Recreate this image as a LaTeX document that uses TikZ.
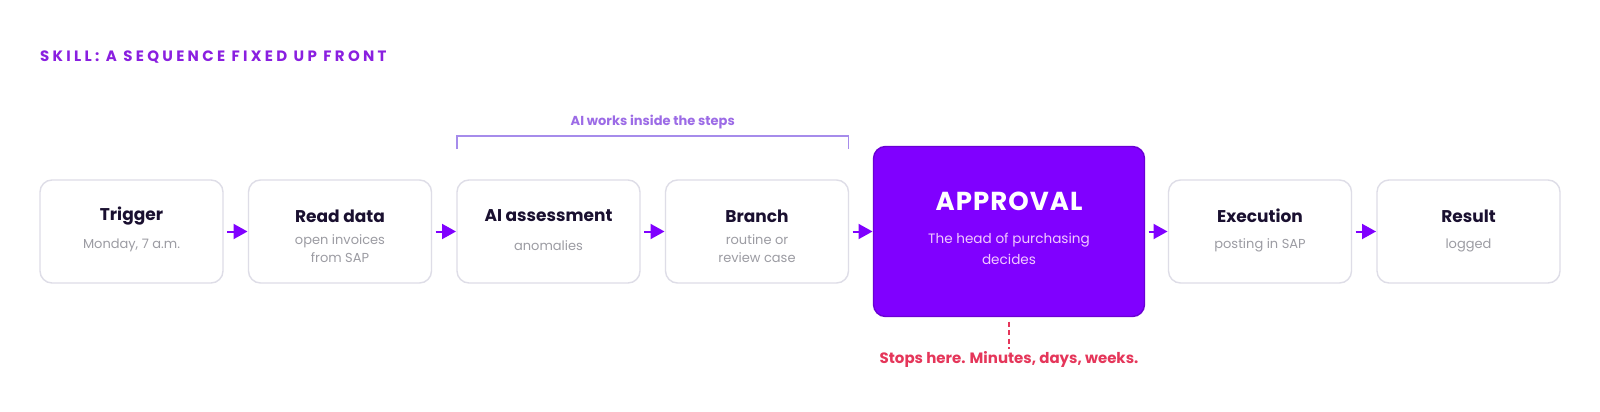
\documentclass[tikz,border=0pt]{standalone}
\usepackage{fontspec}
\setmainfont{Poppins}
\usetikzlibrary{arrows.meta,positioning}
\definecolor{vio}{HTML}{8000FF}
\definecolor{violine}{HTML}{6A00D4}
\definecolor{hdrvio}{HTML}{8A1FE0}
\definecolor{boxline}{HTML}{DEDDE7}
\definecolor{ttlink}{HTML}{1A1030}
\definecolor{subgray}{HTML}{9C9CA3}
\definecolor{bracevio}{HTML}{A68CEB}
\definecolor{ailabel}{HTML}{9C6BE6}
\definecolor{apprsubc}{HTML}{F2C8FF}
\definecolor{stopred}{HTML}{E5365A}

\begin{document}
\begin{tikzpicture}[x=1pt,y=-1pt,>={Triangle[length=14pt,width=15pt]},node distance=25.5pt,
  stepbox/.style={draw=boxline,line width=1.4pt,fill=white,rounded corners=12pt,
    minimum width=183pt,minimum height=103pt,inner sep=0pt,outer sep=0pt},
  apprbox/.style={draw=violine,line width=1.4pt,fill=vio,rounded corners=12pt,
    minimum width=271pt,minimum height=170pt,inner sep=0pt,outer sep=0pt},
  ttl/.style={text=ttlink,font=\fontsize{17}{20}\selectfont\bfseries,inner sep=0pt},
  sub/.style={text=subgray,font=\fontsize{13}{18}\selectfont,align=center,inner sep=0pt},
  apprttl/.style={text=white,font=\fontsize{26}{30}\selectfont\addfontfeatures{LetterSpace=4}\bfseries,inner sep=0pt},
  apprsub/.style={text=apprsubc,font=\fontsize{13.6}{21}\selectfont,align=center,inner sep=0pt},
  flow/.style={->,color=vio,line width=2pt,shorten <=4pt,shorten >=1pt}]

  \path[use as bounding box,fill=white] (0,0) rectangle (1600,412);

  \node[anchor=west,text=hdrvio,inner sep=0pt,
    font=\fontsize{15}{16}\selectfont\addfontfeatures{LetterSpace=22}\bfseries] (hdr) at (40,57)
    {SKILL: A SEQUENCE FIXED UP FRONT};

  \node[stepbox] (trig) at (131.5,231.5) {};
  \node[stepbox,right=of trig] (read) {};
  \node[stepbox,right=of read] (ai) {};
  \node[stepbox,right=of ai] (branch) {};
  \node[apprbox,right=25pt of branch] (appr) {};
  \node[stepbox,right=24pt of appr] (exec) {};
  \node[stepbox,right=of exec] (res) {};

  \node[ttl] (trig-t) at ([yshift=15.5pt]trig.center) {Trigger};
  \node[sub] (trig-s) at ([yshift=-14pt]trig.center) {Monday, 7 a.m.};
  \node[ttl] (read-t) at ([yshift=15.5pt]read.center) {Read data};
  \node[sub] (read-s) at ([yshift=-17pt]read.center) {open invoices\\from SAP};
  \node[ttl] (ai-t) at ([yshift=15.5pt]ai.center) {AI assessment};
  \node[sub] (ai-s) at ([yshift=-14pt]ai.center) {anomalies};
  \node[ttl] (branch-t) at ([yshift=15.5pt]branch.center) {Branch};
  \node[sub] (branch-s) at ([yshift=-17pt]branch.center) {routine or\\review case};
  \node[apprttl] (appr-t) at ([yshift=30pt]appr.center) {APPROVAL};
  \node[apprsub] (appr-s) at ([yshift=-17.5pt]appr.center) {The head of purchasing\\decides};
  \node[ttl] (exec-t) at ([yshift=15.5pt]exec.center) {Execution};
  \node[sub] (exec-s) at ([yshift=-14pt]exec.center) {posting in SAP};
  \node[ttl] (res-t) at ([yshift=15.5pt]res.center) {Result};
  \node[sub] (res-s) at ([yshift=-14pt]res.center) {logged};

  \path[flow] (trig) edge (read)
              (read) edge (ai)
              (ai) edge (branch)
              (branch) edge (appr)
              (appr) edge (exec)
              (exec) edge (res);

  \coordinate (brl) at ([yshift=44pt]ai.north west);
  \coordinate (brr) at ([yshift=44pt]branch.north east);
  \draw[bracevio,line width=1.6pt] ([yshift=-13pt]brl) -- (brl) -- (brr) -- ([yshift=-13pt]brr);
  \path (brl) -- (brr) node[midway,yshift=14pt,text=ailabel,inner sep=0pt,
    font=\fontsize{13}{14}\selectfont\bfseries] (ailbl) {AI works inside the steps};

  \node[text=stopred,inner sep=2pt,font=\fontsize{15}{16}\selectfont\bfseries] (stop)
    at ([yshift=-43pt]appr.south) {Stops here. Minutes, days, weeks.};
  \draw[stopred,line width=2pt,dash pattern=on 5pt off 3.5pt] ([yshift=-5pt]appr.south) -- (stop.north);
\end{tikzpicture}
\end{document}
